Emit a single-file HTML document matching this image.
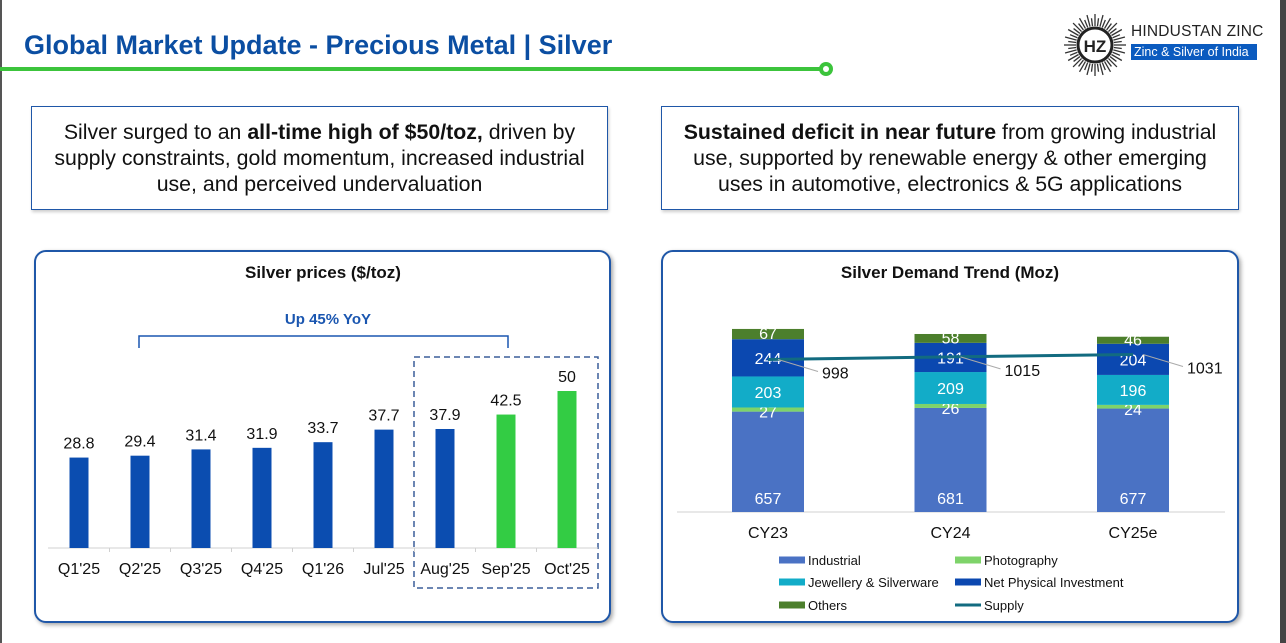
<!DOCTYPE html>
<html><head><meta charset="utf-8"><style>
*{margin:0;padding:0;box-sizing:border-box}
body{width:1286px;height:643px;overflow:hidden;background:#fff;font-family:"Liberation Sans",Arial,sans-serif;position:relative}
.abs{position:absolute}
.box{position:absolute;border:1.5px solid #1f57a8;box-shadow:1px 2px 3px rgba(0,0,0,.2);text-align:center;font-size:21.3px;line-height:26px;color:#111;padding-top:12px;white-space:nowrap}
.panel{position:absolute;border:2px solid #1f57a8;border-radius:12px;box-shadow:2px 2px 4px rgba(0,0,0,.35);background:#fff}
</style></head><body>
<div class="abs" style="left:0;top:0;width:2px;height:643px;background:#555"></div>
<div class="abs" style="left:1280px;top:0;width:6px;height:643px;background:#444"></div>
<div class="abs" style="left:24px;top:30px;font-size:27px;font-weight:bold;color:#0b4ea2;white-space:nowrap">Global Market Update - Precious Metal | Silver</div>
<div class="abs" style="left:0;top:67px;width:826px;height:4px;background:#3cc43c"></div>
<div class="abs" style="left:819px;top:62px;width:14px;height:14px;border-radius:50%;background:#3cc43c"></div>
<div class="abs" style="left:823px;top:66px;width:6px;height:6px;border-radius:50%;background:#fff"></div>
<svg class="abs" style="left:1062px;top:12px" width="66" height="66" viewBox="0 0 66 66">
<g stroke="#333" stroke-width="1.3" id="rays"></g>
<circle cx="33" cy="33" r="17" fill="#fff" stroke="#222" stroke-width="3"/>
<text x="33" y="40" font-size="17" font-weight="bold" text-anchor="middle" fill="#222" font-family="Liberation Sans">HZ</text>
</svg>
<div class="abs" style="left:1131px;top:23px;font-size:15.5px;color:#222;letter-spacing:.2px">HINDUSTAN ZINC</div>
<div class="abs" style="left:1131px;top:44px;width:126px;height:16px;background:#0b5bbf;color:#fff;font-size:12.5px;line-height:16px;padding-left:3px">Zinc &amp; Silver of India</div>

<div class="box" style="left:31px;top:106px;width:577px;height:104px">Silver surged to an <b>all-time high of $50/toz,</b> driven by<br>supply constraints, gold momentum, increased industrial<br>use, and perceived undervaluation</div>
<div class="box" style="left:661px;top:106px;width:578px;height:104px"><b>Sustained deficit in near future</b> from growing industrial<br>use, supported by renewable energy &amp; other emerging<br>uses in automotive, electronics &amp; 5G applications</div>

<div class="panel" style="left:34px;top:250px;width:577px;height:373px"></div>
<div class="panel" style="left:661px;top:250px;width:578px;height:373px"></div>

<svg class="abs" id="chart" style="left:0;top:0" width="1286" height="643" font-family="Liberation Sans, Arial, sans-serif">
<text x="323" y="278" font-size="17" font-weight="bold" text-anchor="middle" fill="#111">Silver prices ($/toz)</text>
<text x="328" y="324" font-size="15" font-weight="bold" text-anchor="middle" fill="#1a56b0">Up 45% YoY</text>
<path d="M139,348 V336 H508 V348" fill="none" stroke="#1a56b0" stroke-width="1.5"/>
<rect x="414" y="357" width="184" height="231" fill="none" stroke="#3b5f9a" stroke-width="1.5" stroke-dasharray="6,4"/>
<line x1="48" y1="548" x2="598" y2="548" stroke="#d0d0d0" stroke-width="1"/>
<g id="pbars"></g>
<text x="950" y="278" font-size="17" font-weight="bold" text-anchor="middle" fill="#111">Silver Demand Trend (Moz)</text>
<line x1="677" y1="512" x2="1225" y2="512" stroke="#d0d0d0" stroke-width="1"/>
<g id="dbars"></g>
<g id="legend"></g>
</svg>
<script>
const priceCats=["Q1'25","Q2'25","Q3'25","Q4'25","Q1'26","Jul'25","Aug'25","Sep'25","Oct'25"];
const priceVals=[28.8,29.4,31.4,31.9,33.7,37.7,37.9,42.5,50];
const priceHighlight=[0,0,0,0,0,0,0,1,1];
const demandCats=["CY23","CY24","CY25e"];
const industrial=[657,681,677];
const photography=[27,26,24];
const jewellery=[203,209,196];
const netInvestment=[244,191,204];
const others=[67,58,46];
const supply=[998,1015,1031];
const NS="http://www.w3.org/2000/svg";
function mk(tag,attrs,parent,txt){const e=document.createElementNS(NS,tag);for(const k in attrs)e.setAttribute(k,attrs[k]);if(txt!==undefined)e.textContent=txt;parent.appendChild(e);return e;}
const rays=document.getElementById('rays');
for(let i=0;i<48;i++){const a=i*Math.PI/24;mk('line',{x1:33+19*Math.cos(a),y1:33+19*Math.sin(a),x2:33+(i%2?27:31)*Math.cos(a),y2:33+(i%2?27:31)*Math.sin(a)},rays);}
const px=i=>79+i*61, py=v=>548-v*3.14;
const pg=document.getElementById('pbars');
priceVals.forEach((v,i)=>{
 const r=mk('rect',{x:px(i)-9.5,y:py(v),width:19,height:548-py(v),fill:priceHighlight[i]?'#33cc44':'#0b4db0'},pg);
 
 
 const t=mk('text',{x:px(i),y:py(v)-9,'font-size':16,'text-anchor':'middle',fill:'#111'},pg,String(v));
 
 
 const c=mk('text',{x:px(i),y:574,'font-size':16,'text-anchor':'middle',fill:'#111'},pg,priceCats[i]);
 
 
 if(i>0){mk('line',{x1:px(i)-30.5,y1:548,x2:px(i)-30.5,y2:552,stroke:'#d0d0d0'},pg);}
});
const dx=i=>768+i*182.5, dy=v=>512-v*0.1528;
const dg=document.getElementById('dbars');
const series=[[industrial,'#4a72c4','industrial'],[photography,'#7ed36a','photography'],[jewellery,'#12acc8','jewellery'],[netInvestment,'#0b48b0','net-investment'],[others,'#4c7f2c','others']];
demandCats.forEach((c,i)=>{
 let cum=0;
 series.forEach(([arr,col,nm],si)=>{
  const v=arr[i];const y0=dy(cum),y1=dy(cum+v);
  const r=mk('rect',{x:dx(i)-36,y:y1,width:72,height:y0-y1,fill:col},dg);
  
  
  let ly=(y0+y1)/2+6;
  if(si===0)ly=y0-8;
  if(si===1)ly=y1+10;
  if(si===4)ly=(y0+y1)/2+5;
  const t=mk('text',{x:dx(i),y:ly,'font-size':16,'text-anchor':'middle',fill:'#fff'},dg,String(v));
  
  
  cum+=v;
 });
 const cl=mk('text',{x:dx(i),y:538,'font-size':16,'text-anchor':'middle',fill:'#111'},dg,c);
 
 
});
const pts=supply.map((v,i)=>dx(i)+','+dy(v)).join(' ');
const sl=mk('polyline',{points:pts,fill:'none',stroke:'#126b80','stroke-width':3},dg);


supply.forEach((v,i)=>{
 mk('line',{x1:dx(i)+10,y1:dy(v),x2:dx(i)+50,y2:dy(v)+12,stroke:'#aaa','stroke-width':1},dg);
 const t=mk('text',{x:dx(i)+54,y:dy(v)+19,'font-size':16,fill:'#111'},dg,String(v));
 
 
});
const lg=document.getElementById('legend');
const legItems=[['Industrial','#4a72c4',779,560],['Photography','#7ed36a',955,560],['Jewellery & Silverware','#12acc8',779,582],['Net Physical Investment','#0b48b0',955,582],['Others','#4c7f2c',779,605],['Supply','#126b80',955,605]];
legItems.forEach(([n,c,x,y])=>{
 if(n==='Supply')mk('rect',{x:x,y:y-1.5,width:26,height:3,fill:c},lg);
 else mk('rect',{x:x,y:y-3.5,width:26,height:7,fill:c},lg);
 const t=mk('text',{x:x+29,y:y+5,'font-size':13,fill:'#111'},lg,n);
 
 
});
</script>
</body></html>
